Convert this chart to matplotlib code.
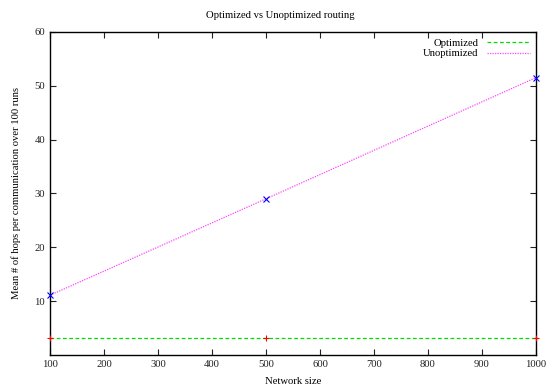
import matplotlib.pyplot as plt

# Data
network_size = [100, 500, 1000]
optimized = [3.15, 3.15, 3.15]
unoptimized = [11.1, 29.0, 51.5]

plt.rcParams['font.family'] = ['Liberation Serif', 'DejaVu Serif']
plt.rcParams['font.size'] = 7

fig = plt.figure(figsize=(5.46, 3.87), dpi=100)
ax = fig.add_axes([0.0916, 0.0827, 0.89, 0.835])

# points
ax.plot(network_size, optimized, linestyle='none', marker='+', color='red',
        markersize=4, markeredgewidth=0.8, clip_on=False, zorder=3)
ax.plot(network_size, unoptimized, linestyle='none', marker='x', color='blue',
        markersize=4, markeredgewidth=0.8, clip_on=False, zorder=3)

# lines
ax.plot(network_size, optimized, linestyle=(0, (3, 2)), color='#00dd00',
        linewidth=0.9, label='Optimized')
ax.plot(network_size, unoptimized, linestyle=(0, (1, 1)), color='#ff44ff',
        linewidth=0.9, label='Unoptimized')

ax.set_xlim(100, 1000)
ax.set_ylim(0, 60)
ax.set_xticks(range(100, 1001, 100))
ax.set_yticks(range(10, 61, 10))
ax.tick_params(direction='in', top=True, right=True, length=4, width=0.8,
               labelsize=7.7, colors='#222222')
for s in ax.spines.values():
    s.set_linewidth(1.0)

fig.text(0.513, 1 - 15 / 387, 'Optimized vs Unoptimized routing',
         fontsize=7.7, ha='center', va='center')
ax.set_xlabel('Network size', fontsize=7.7, labelpad=6)
ax.set_ylabel('Mean # of hops per communication over 100 runs', fontsize=7.7,
              labelpad=10)

ax.legend(loc='upper right', frameon=False, markerfirst=False, fontsize=7.7,
          handlelength=4, handletextpad=0.8, labelspacing=0.1,
          borderaxespad=0.2)

fig.savefig('out.png', dpi=100)
